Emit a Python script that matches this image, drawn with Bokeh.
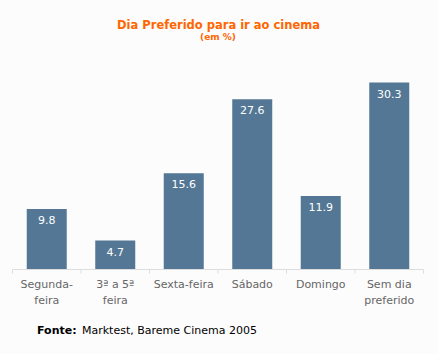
import math
from bokeh.plotting import figure
from bokeh.models import ColumnDataSource, Range1d, Label
from bokeh.core.properties import value
from bokeh.embed import file_html
from bokeh.resources import INLINE

categories = ["Segunda-\nfeira", "3ª a 5ª\nfeira", "Sexta-feira", "Sábado", "Domingo", "Sem dia\npreferido"]
values = [9.8, 4.7, 15.6, 27.6, 11.9, 30.3]
value_labels = ["9.8", "4.7", "15.6", "27.6", "11.9", "30.3"]

FONT = "DejaVu Sans"
BG = "#FCFCFC"
ORANGE = "#FF6600"
BAR = "#547795"
AXIS = "#DDDDDD"

W, H = 438, 354
# plot area in canvas pixels
PL, PR, PT, PB = 12, 423, 50, 269
YMAX = 35.5
n = len(categories)
ppu_x = (PR - PL) / n
ppu_y = (PB - PT) / YMAX

x_range = Range1d(-PL / ppu_x, n + (W - PR) / ppu_x)
y_range = Range1d(-(H - PB) / ppu_y, PB / ppu_y)

xs = [i + 0.5 for i in range(n)]
src = ColumnDataSource(dict(x=xs, top=values, lab=value_labels, cat=categories))
bounds = ColumnDataSource(dict(x=list(range(n + 1)), y=[0] * (n + 1)))

p = figure(width=W, height=H, output_backend="svg", toolbar_location=None,
           x_range=x_range, y_range=y_range, min_border=0,
           background_fill_color=BG, border_fill_color=BG, outline_line_color=None)
p.axis.visible = False
p.grid.visible = False

p.vbar(x="x", top="top", width=0.584, bottom=0, source=src, color=BAR, line_color=None)
p.text(x="x", y="top", text="lab", source=src, text_color="white", text_align="center",
       text_baseline="middle", y_offset=11, text_font_size="11px", text_font=value(FONT))

# category axis
p.segment(x0=0, x1=n, y0=0, y1=0, line_color=AXIS, line_width=1)
p.ray(x="x", y="y", source=bounds, length=4, length_units="screen", angle=-math.pi / 2,
      line_color=AXIS, line_width=1)
p.text(x="x", y=0, text="cat", source=src, text_color="#666666", text_align="center",
       text_baseline="top", y_offset=8, text_font_size="11px", text_font=value(FONT),
       text_line_height=1.27)

def lab(px, py, text, size, style, color, align):
    return Label(x=px, y=H - py, x_units="screen", y_units="screen", text=text,
                 text_align=align, text_baseline="middle", text_font=FONT,
                 text_font_size=size, text_font_style=style, text_color=color)

p.add_layout(lab(218, 24, "Dia Preferido para ir ao cinema", "11.5px", "bold", ORANGE, "center"))
p.add_layout(lab(217.5, 36.5, "(em %)", "9px", "bold", ORANGE, "center"))
p.add_layout(lab(36.5, 330, "Fonte:", "11px", "bold", "#000000", "left"))
p.add_layout(lab(81.5, 330, "Marktest, Bareme Cinema 2005", "11px", "normal", "#000000", "left"))

open("out.html", "w").write(file_html(p, INLINE))
